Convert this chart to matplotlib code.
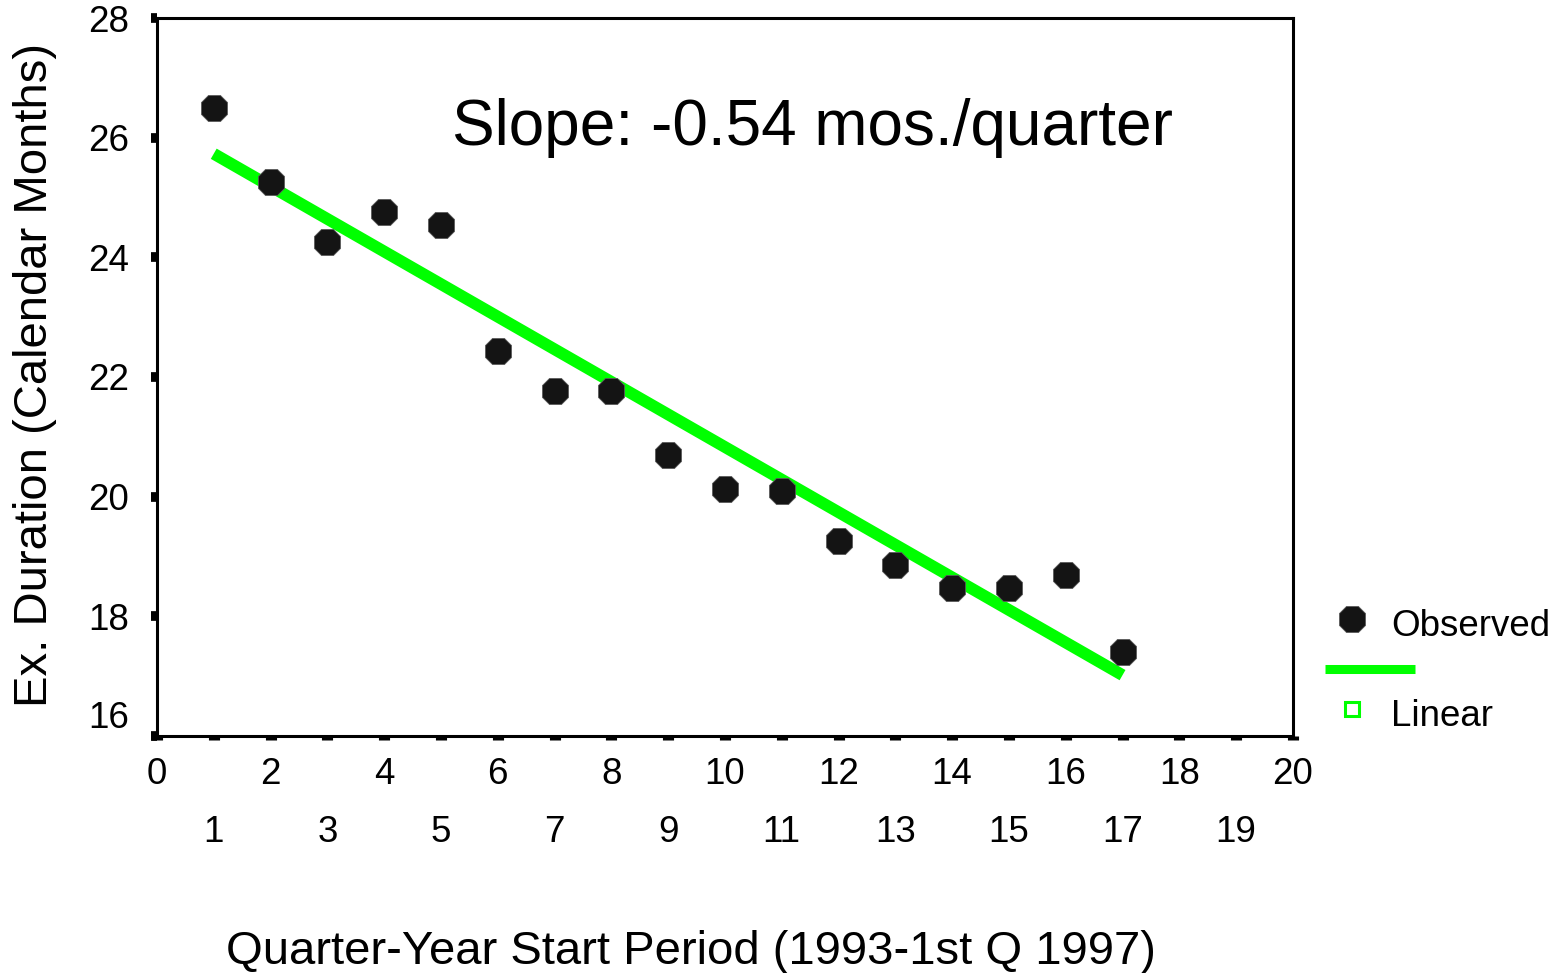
import numpy as np
import matplotlib
matplotlib.use("Agg")
import matplotlib.pyplot as plt
from matplotlib.ticker import MultipleLocator

# quarter index and observed execution duration (calendar months)
quarters = [1, 2, 3, 4, 5, 6, 7, 8, 9, 10, 11, 12, 13, 14, 15, 16, 17]
duration = [26.50, 25.26, 24.26, 24.76, 24.54, 22.43, 21.77, 21.77, 20.70,
            20.13, 20.09, 19.26, 18.86, 18.47, 18.47, 18.69, 17.40]

slope_text = "Slope: -0.54 mos./quarter"
x_label = "Quarter-Year Start Period (1993-1st Q 1997)"
y_label = "Ex. Duration (Calendar Months)"

plt.rcParams['font.family'] = ['Liberation Sans', 'DejaVu Sans']

fig = plt.figure(figsize=(15.6, 9.73), dpi=100)
ax = fig.add_axes([0.1006, 0.2436, 0.7282, 0.7379])

# linear fit of the observed values
coef = np.polyfit(quarters, duration, 1)
fit_x = np.array([quarters[0], quarters[-1]])
fit_y = np.polyval(coef, fit_x)

green = '#00ff00'
ax.plot(fit_x, fit_y, color=green, lw=8.5, solid_capstyle='butt', zorder=2)
ax.plot(quarters, duration, ls='none', marker='8', ms=21, mfc='#141414',
        mec='#5a5a5a', mew=0.6, zorder=3)

ax.set_xlim(0, 20)
ax.set_ylim(16, 28)

# even labels on the first row, odd labels on the second row
ax.xaxis.set_major_locator(MultipleLocator(2))
ax.xaxis.set_minor_locator(MultipleLocator(2, offset=1))
ax.xaxis.set_minor_formatter(plt.FuncFormatter(lambda v, p: f"{v:.0f}"))
ax.yaxis.set_major_locator(MultipleLocator(2))

ax.tick_params(axis='x', which='both', direction='out', length=3, width=8,
               labelsize=26.5, color='black')
ax.tick_params(axis='x', which='major', pad=12)
ax.tick_params(axis='x', which='minor', pad=54)
ax.tick_params(axis='y', which='major', direction='out', length=4, width=7,
               labelsize=26.5, pad=16)

for s in ax.spines.values():
    s.set_linewidth(2.2)

ax.set_ylabel(y_label, fontsize=34)
ax.yaxis.set_label_coords(-0.088, 0.503)
ax.set_xlabel(x_label, fontsize=34)
ax.xaxis.set_label_coords(0.47, -0.27)

ax.text(0.577, 0.847, slope_text, transform=ax.transAxes, fontsize=46,
        ha='center', va='center')

# legend drawn by hand on the right
ax.plot([0.8667], [0.3638], transform=fig.transFigure, clip_on=False,
        marker='8', ms=21, mfc='#141414', mec='#5a5a5a', mew=0.6, ls='none')
fig.text(0.8917, 0.3566, "Observed", fontsize=26.5, va='center')
ax.plot([0.8494, 0.9071], [0.3124, 0.3124], transform=fig.transFigure,
        clip_on=False, color=green, lw=6.5, solid_capstyle='butt')
ax.plot([0.8667], [0.2713], transform=fig.transFigure, clip_on=False,
        marker='s', ms=10, mfc='white', mec=green, mew=2.2, ls='none')
fig.text(0.8917, 0.2641, "Linear", fontsize=26.5, va='center')

# lowest y label sits a bit above its tick
fig.canvas.draw()
for t in ax.get_yticklabels():
    if t.get_text() == '16':
        t.set_va('bottom')

fig.savefig("out.png", dpi=100)
